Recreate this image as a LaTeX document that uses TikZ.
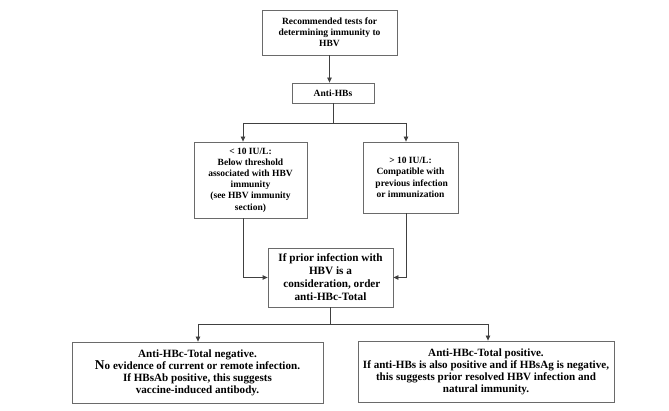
\documentclass[tikz,border=0pt]{standalone}
\usepackage{fontspec}
\setmainfont{Liberation Serif}
\usetikzlibrary{arrows.meta}
\definecolor{boxline}{HTML}{6A6A6A}
\definecolor{conn}{HTML}{404040}
\begin{document}
\begin{tikzpicture}[x=1pt,y=-1pt,
  box/.style={draw=boxline,line width=0.8pt,rectangle,align=center,inner sep=1pt,
    font=\fontsize{9.5}{11.2}\selectfont\bfseries},
  bigbox/.style={box,font=\fontsize{11.2}{13}\selectfont\bfseries},
  lowbox/.style={box,font=\fontsize{11.1}{12}\selectfont\bfseries},
  arr/.style={draw=conn,line width=0.8pt,-{Triangle[length=5pt,width=4.5pt]}},
  ln/.style={draw=conn,line width=0.8pt}]
\useasboundingbox (0,0) rectangle (669,411);
\node[box,minimum width=135pt,minimum height=45pt] (top) at (329.5,32.5)
  {Recommended tests for\\determining immunity to\\HBV};
\node[box,minimum width=82pt,minimum height=20pt] (antihbs) at (333,93) {Anti-HBs};
\node[box,minimum width=113pt,minimum height=76pt] (left) at (250.5,180)
  {\textless{} 10 IU/L:\\Below threshold\\associated with HBV\\immunity\\(see HBV immunity\\section)};
\node[box,minimum width=95pt,minimum height=71pt] (right) at (410.5,177.5)
  {\textgreater{} 10 IU/L:\\Compatible with\\\ previous infection\\or immunization};
\node[bigbox,minimum width=125pt,minimum height=59pt] (mid) at (330.5,277.5)
  {If prior infection with\\HBV is a\\\ consideration, order\\anti-HBc-Total};
\node[lowbox,minimum width=251pt,minimum height=61pt] (botleft) at (197.5,372.5)
  {Anti-HBc-Total negative.\\{\fontsize{13.5}{12}\selectfont N}o evidence of current or remote infection.\\If HBsAb positive, this suggests\\vaccine-induced antibody.};
\node[lowbox,minimum width=256pt,minimum height=61pt] (botright) at (486,371.5)
  {Anti-HBc-Total positive.\\If anti-HBs is also positive and if HBsAg is negative,\\this suggests prior resolved HBV infection and\\natural immunity.};
% connectors
\draw[arr] (top.south) -- (top.south |- antihbs.north);
\coordinate (bl) at (243,123);
\coordinate (br) at (406,123);
\draw[ln] (antihbs.south) -- (antihbs.south |- bl);
\draw[ln] (bl) -- (br);
\draw[arr] (bl) -- (bl |- left.north);
\draw[arr] (br) -- (br |- right.north);
\draw[arr] (left.south -| bl) |- (mid.west);
\draw[arr] (right.south -| br) |- (mid.east);
\coordinate (ml) at (198,324);
\coordinate (mr) at (488,324);
\draw[ln] (mid.south) -- (mid.south |- ml);
\draw[ln] (ml) -- (mr);
\draw[arr] (ml) -- (ml |- botleft.north);
\draw[arr] (mr) -- (mr |- botright.north);
\end{tikzpicture}
\end{document}
